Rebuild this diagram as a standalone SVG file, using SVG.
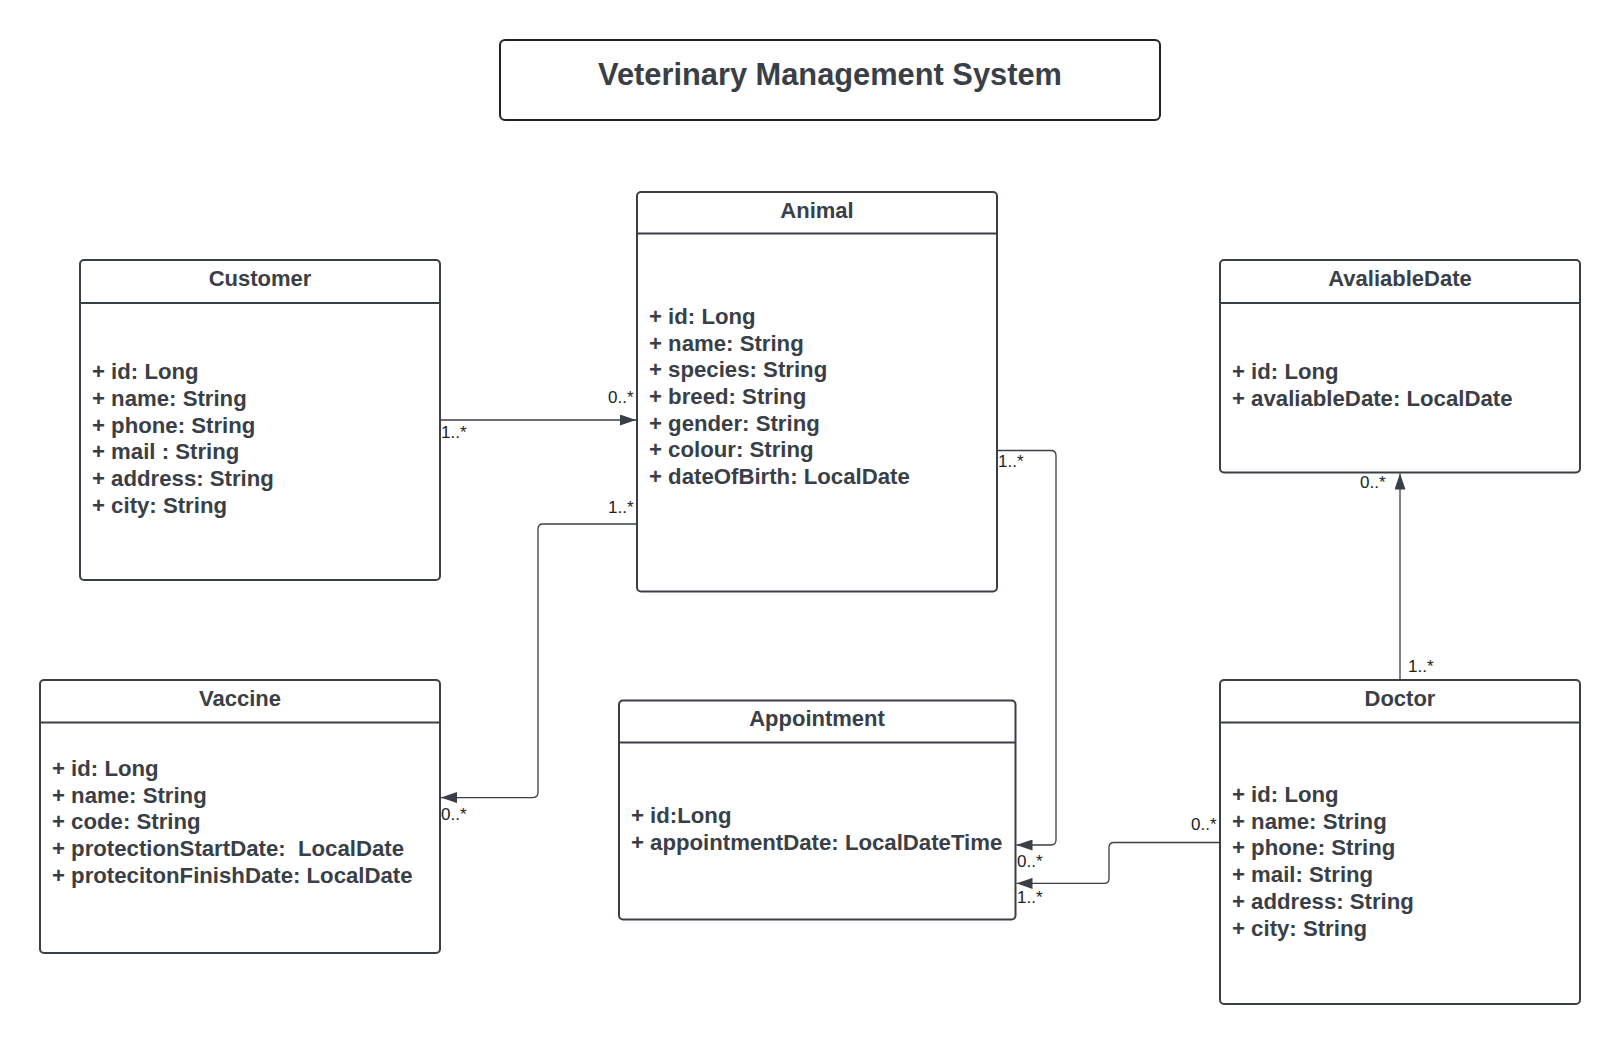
<svg xmlns="http://www.w3.org/2000/svg" width="1620" height="1044" viewBox="0 0 1620 1044">
<style>
.box{fill:#fff;stroke:#3a3f47;stroke-width:2}
.sep{stroke:#3a3f47;stroke-width:2}
.ttl{font-family:"Liberation Sans",Arial,sans-serif;font-weight:bold;font-size:22px;fill:#3a3f47;text-anchor:middle}
.att{font-family:"Liberation Sans",Arial,sans-serif;font-weight:bold;font-size:22.2px;fill:#3a3f47}
.lbl{font-family:"Liberation Sans",Arial,sans-serif;font-size:17px;fill:#222}
.con{fill:none;stroke:#3a3f47;stroke-width:1.3}
</style>
<defs>
<marker id="arr" markerUnits="userSpaceOnUse" markerWidth="16" markerHeight="11" refX="16" refY="5.5" orient="auto">
<path d="M0,0 L16,5.5 L0,11 z" fill="#3a3f47"/>
</marker>
</defs>
<rect width="1620" height="1044" fill="#fff"/>

<g id="title">
<rect x="500" y="40" width="660" height="80" rx="5" fill="#fff" stroke="#1f2226" stroke-width="2"/>
<text x="830" y="85" style="font-family:'Liberation Sans',Arial,sans-serif;font-weight:bold;font-size:30.8px;fill:#3a3f47;text-anchor:middle">Veterinary Management System</text>
</g>

<g id="customer">
<rect class="box" x="80" y="260" width="360" height="320" rx="4"/>
<line class="sep" x1="80" y1="303" x2="440" y2="303"/>
<text class="ttl" x="260" y="286">Customer</text>
<text class="att" x="92" y="379.3">+ id: Long</text>
<text class="att" x="92" y="406">+ name: String</text>
<text class="att" x="92" y="432.7">+ phone: String</text>
<text class="att" x="92" y="459.4">+ mail : String</text>
<text class="att" x="92" y="486">+ address: String</text>
<text class="att" x="92" y="512.7">+ city: String</text>
</g>

<g id="animal">
<rect class="box" x="637" y="192" width="360" height="399.5" rx="4"/>
<line class="sep" x1="637" y1="233.5" x2="997" y2="233.5"/>
<text class="ttl" x="817" y="217.5">Animal</text>
<text class="att" x="649" y="324">+ id: Long</text>
<text class="att" x="649" y="350.7">+ name: String</text>
<text class="att" x="649" y="377.3">+ species: String</text>
<text class="att" x="649" y="404">+ breed: String</text>
<text class="att" x="649" y="430.7">+ gender: String</text>
<text class="att" x="649" y="457.3">+ colour: String</text>
<text class="att" x="649" y="484">+ dateOfBirth: LocalDate</text>
</g>

<g id="availableDate">
<rect class="box" x="1220" y="260" width="360" height="212.5" rx="4"/>
<line class="sep" x1="1220" y1="303" x2="1580" y2="303"/>
<text class="ttl" x="1400" y="286">AvaliableDate</text>
<text class="att" x="1232" y="379.3">+ id: Long</text>
<text class="att" x="1232" y="406">+ avaliableDate: LocalDate</text>
</g>

<g id="vaccine">
<rect class="box" x="40" y="680" width="400" height="273" rx="4"/>
<line class="sep" x1="40" y1="722.5" x2="440" y2="722.5"/>
<text class="ttl" x="240" y="706">Vaccine</text>
<text class="att" x="52" y="776">+ id: Long</text>
<text class="att" x="52" y="802.7">+ name: String</text>
<text class="att" x="52" y="829.3">+ code: String</text>
<text class="att" x="52" y="856" xml:space="preserve">+ protectionStartDate:  LocalDate</text>
<text class="att" x="52" y="882.7">+ protecitonFinishDate: LocalDate</text>
</g>

<g id="appointment">
<rect class="box" x="619" y="700.5" width="396.5" height="219" rx="4"/>
<line class="sep" x1="619" y1="742.5" x2="1015.5" y2="742.5"/>
<text class="ttl" x="817" y="726">Appointment</text>
<text class="att" x="631" y="823.3">+ id:Long</text>
<text class="att" x="631" y="850">+ appointmentDate: LocalDateTime</text>
</g>

<g id="doctor">
<rect class="box" x="1220" y="680" width="360" height="324" rx="4"/>
<line class="sep" x1="1220" y1="722.5" x2="1580" y2="722.5"/>
<text class="ttl" x="1400" y="706">Doctor</text>
<text class="att" x="1232" y="802">+ id: Long</text>
<text class="att" x="1232" y="828.7">+ name: String</text>
<text class="att" x="1232" y="855.4">+ phone: String</text>
<text class="att" x="1232" y="882.1">+ mail: String</text>
<text class="att" x="1232" y="908.8">+ address: String</text>
<text class="att" x="1232" y="935.5">+ city: String</text>
</g>

<g id="connectors">
<path class="con" d="M440,420 H636" marker-end="url(#arr)"/>
<path class="con" d="M637,524 H543 Q538,524 538,529 V792.6 Q538,797.6 533,797.6 H441" marker-end="url(#arr)"/>
<path class="con" d="M997,450.5 H1051 Q1056,450.5 1056,455.5 V840 Q1056,845 1051,845 H1016.5" marker-end="url(#arr)"/>
<path class="con" d="M1220,842.5 H1114 Q1109,842.5 1109,847.5 V878.4 Q1109,883.4 1104,883.4 H1016.5" marker-end="url(#arr)"/>
<path class="con" d="M1400,680 V473.5" marker-end="url(#arr)"/>
<text class="lbl" x="608" y="403">0..*</text>
<text class="lbl" x="441" y="438.3">1..*</text>
<text class="lbl" x="608" y="512.7">1..*</text>
<text class="lbl" x="441" y="820">0..*</text>
<text class="lbl" x="998" y="467.3">1..*</text>
<text class="lbl" x="1017" y="866.7">0..*</text>
<text class="lbl" x="1017" y="903.3">1..*</text>
<text class="lbl" x="1191" y="830">0..*</text>
<text class="lbl" x="1360" y="487.5">0..*</text>
<text class="lbl" x="1408" y="672">1..*</text>
</g>
</svg>
